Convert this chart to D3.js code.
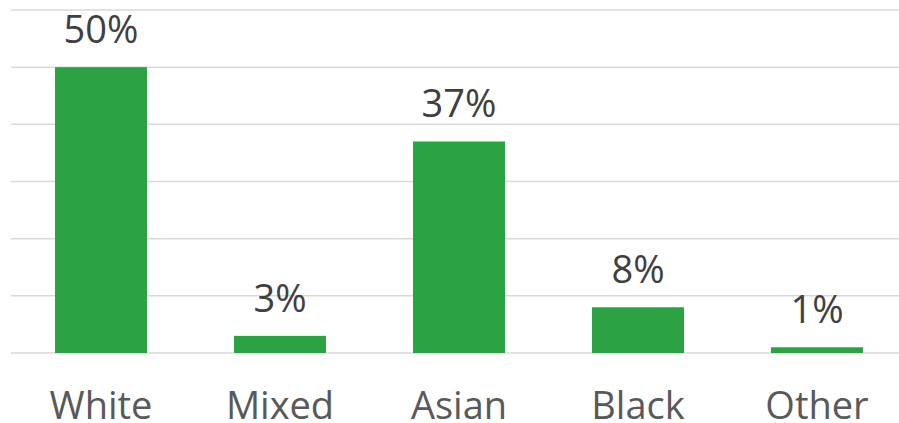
<!DOCTYPE html>
<html>
<head>
<meta charset="utf-8">
<script src="https://cdn.jsdelivr.net/npm/d3@7"></script>
<style>
  body { margin: 0; background: #fff; }
  text { font-family: "Open Sans", sans-serif; }
</style>
</head>
<body>
<div id="chart"></div>
<script>
// data
const categories = ["White", "Mixed", "Asian", "Black", "Other"];
const values = [50, 3, 37, 8, 1];
const gridTicks = [0, 10, 20, 30, 40, 50, 60];

const width = 899, height = 423;

//create canvas
const svg = d3.select("#chart")
    .append("svg")
    .attr("width", width)
    .attr("height", height);

const x = d3.scaleBand()
    .domain(categories)
    .range([11.5, 906.5])
    .paddingInner(0.486)
    .paddingOuter(0.243);

const y = d3.scaleLinear()
    .domain([0, 60])
    .range([353, 10]);

//gridlines
svg.append("g")
    .selectAll("line")
    .data(gridTicks)
    .enter()
    .append("line")
    .attr("x1", 11)
    .attr("x2", width)
    .attr("y1", d => y(d))
    .attr("y2", d => y(d))
    .attr("stroke", "#d9d9d9")
    .attr("stroke-width", 1.5);

//bars
svg.append("g")
    .selectAll("rect")
    .data(values)
    .enter()
    .append("rect")
    .attr("x", (d, i) => x(categories[i]))
    .attr("width", x.bandwidth())
    .attr("y", d => y(d))
    .attr("height", d => y(0) - y(d))
    .attr("fill", "#2ca342");

//value labels
svg.append("g")
    .selectAll("text")
    .data(values)
    .enter()
    .append("text")
    .attr("x", (d, i) => x(categories[i]) + x.bandwidth() / 2)
    .attr("y", d => y(d) - 24)
    .attr("text-anchor", "middle")
    .attr("font-size", 38)
    .attr("fill", "#404040")
    .text(d => d + "%");

//category labels
svg.append("g")
    .selectAll("text")
    .data(categories)
    .enter()
    .append("text")
    .attr("x", d => x(d) + x.bandwidth() / 2)
    .attr("y", 419)
    .attr("text-anchor", "middle")
    .attr("font-size", 38)
    .attr("fill", "#595959")
    .text(d => d);
</script>
</body>
</html>
